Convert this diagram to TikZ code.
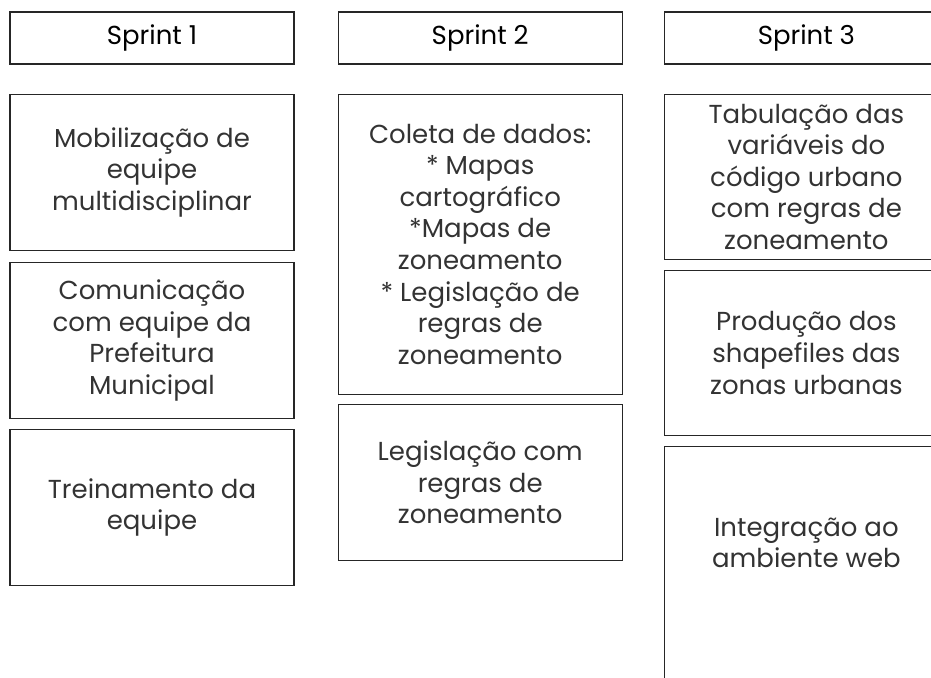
\documentclass[tikz,border=0pt]{standalone}
\usepackage{fontspec}
\setmainfont{Poppins}
\usepackage{tikz}
\usetikzlibrary{positioning}
\tikzset{
	head/.style ={rectangle, draw=black!85, line width=1.2pt, minimum width=284pt, minimum height=52pt, align=center, inner sep=0pt},
	task/.style ={rectangle, draw=black!85, line width=1.2pt, minimum width=284pt, minimum height=156pt, align=center, inner sep=0pt, text=black!80},
}
\begin{document}
\begin{tikzpicture}[x=1pt, y=1pt, every node/.style={font=\fontsize{26}{31.6}\selectfont}]
	\clip (0,0) rectangle (931,-677);
	% sprint headers
	\node[head] (s1) at (152,-38) {Sprint 1};
	\node[head, right=43pt of s1] (s2) {Sprint 2};
	\node[head, right=41pt of s2] (s3) {Sprint 3};
	% sprint 1
	\node[task, below=29pt of s1] (a1) {Mobilização de\\ equipe\\ multidisciplinar};
	\node[task, below=11pt of a1] (a2) {Comunicação\\ com equipe da\\ Prefeitura\\ Municipal};
	\node[task, below=10pt of a2] (a3) {Treinamento da\\ equipe};
	% sprint 2
	\node[task, below=29pt of s2, minimum height=300pt] (b1) {Coleta de dados:\\ * Mapas\\ cartográfico\\ *Mapas de\\ zoneamento\\ * Legislação de\\ regras de\\ zoneamento};
	\node[task, below=9pt of b1] (b2) {Legislação com\\ regras de\\ zoneamento};
	% sprint 3
	\node[task, below=29pt of s3, minimum height=165pt] (c1) {Tabulação das\\ variáveis do\\ código urbano\\ com regras de\\ zoneamento};
	\node[task, below=10pt of c1, minimum height=165pt] (c2) {Produção dos\\ shapefiles das\\ zonas urbanas};
	\node[task, below=10pt of c2, minimum height=264pt] (c3) {};
	\node[align=center, text=black!80] (c3t) at ([yshift=-97pt]c3.north) {Integração ao\\ ambiente web};
\end{tikzpicture}
\end{document}
